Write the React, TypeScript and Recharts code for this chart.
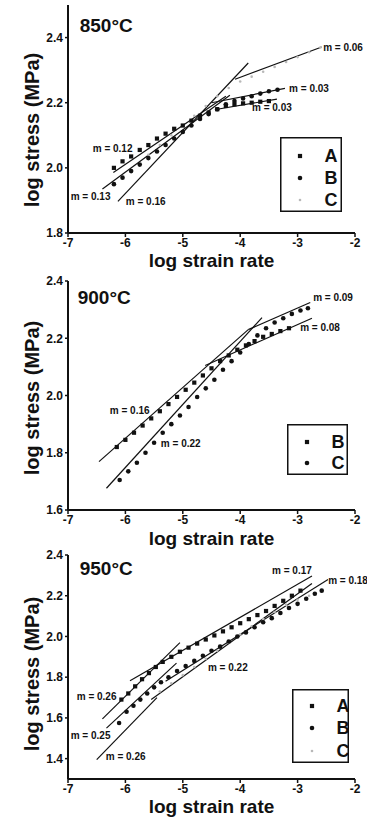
import React from 'react';
import { ComposedChart, Scatter, XAxis, YAxis, ReferenceLine } from 'recharts';

type Pt = [number, number];
type Note = [number, number, string];

const RATE_TICKS = [-7, -6, -5, -4, -3, -2];

// ---- 850°C ----
const a850: Pt[] = [
  [-6.2, 2.0], [-6.05, 2.02], [-5.9, 2.035], [-5.75, 2.055], [-5.6, 2.07], [-5.45, 2.09],
  [-5.3, 2.105], [-5.15, 2.12], [-5.0, 2.13], [-4.85, 2.145], [-4.7, 2.16], [-4.55, 2.17],
  [-4.4, 2.18], [-4.25, 2.19], [-4.1, 2.195], [-3.95, 2.198], [-3.8, 2.2], [-3.65, 2.203], [-3.5, 2.205],
];
const b850: Pt[] = [
  [-6.2, 1.95], [-6.05, 1.97], [-5.9, 1.99], [-5.75, 2.01], [-5.6, 2.03], [-5.45, 2.05],
  [-5.3, 2.07], [-5.15, 2.09], [-5.0, 2.11], [-4.85, 2.13], [-4.7, 2.15], [-4.55, 2.165],
  [-4.4, 2.18], [-4.25, 2.195], [-4.1, 2.205], [-3.95, 2.213], [-3.8, 2.22], [-3.65, 2.228],
  [-3.5, 2.235], [-3.35, 2.24],
];
const c850: Pt[] = [
  [-5.6, 2.04], [-5.4, 2.07], [-5.2, 2.1], [-5.0, 2.13], [-4.8, 2.16], [-4.6, 2.19],
  [-4.4, 2.22], [-4.2, 2.245], [-4.0, 2.265], [-3.8, 2.28], [-3.6, 2.295], [-3.4, 2.31],
  [-3.2, 2.325], [-3.0, 2.34], [-2.8, 2.355], [-2.6, 2.37],
];
const fits850: [Pt, Pt][] = [
  [[-4.09, 2.272], [-2.58, 2.371]],
  [[-6.13, 1.897], [-3.86, 2.322]],
  [[-6.4, 1.935], [-4.18, 2.223]],
  [[-6.21, 1.986], [-4.25, 2.22]],
  [[-4.5, 2.2], [-3.22, 2.244]],
  [[-4.4, 2.18], [-3.36, 2.211]],
];
const notes850: Note[] = [
  [-2.555, 2.371, 'm = 0.06'],
  [-3.148, 2.245, 'm = 0.03'],
  [-3.794, 2.184, 'm = 0.03'],
  [-6.569, 2.058, 'm = 0.12'],
  [-6.953, 1.911, 'm = 0.13'],
  [-5.993, 1.897, 'm = 0.16'],
];

// ---- 900°C ----
const b900: Pt[] = [
  [-6.15, 1.82], [-6.0, 1.845], [-5.85, 1.87], [-5.7, 1.895], [-5.55, 1.92], [-5.4, 1.945],
  [-5.25, 1.97], [-5.1, 1.995], [-4.95, 2.02], [-4.8, 2.045], [-4.65, 2.07], [-4.5, 2.095],
  [-4.35, 2.12], [-4.2, 2.14], [-4.05, 2.16], [-3.9, 2.175], [-3.75, 2.19], [-3.6, 2.205],
  [-3.45, 2.215], [-3.3, 2.225], [-3.15, 2.235],
];
const c900: Pt[] = [
  [-6.1, 1.705], [-5.95, 1.735], [-5.8, 1.765], [-5.65, 1.8], [-5.5, 1.835], [-5.35, 1.87],
  [-5.2, 1.9], [-5.05, 1.93], [-4.9, 1.96], [-4.75, 1.995], [-4.6, 2.025], [-4.45, 2.055],
  [-4.3, 2.09], [-4.15, 2.12], [-4.0, 2.15], [-3.85, 2.18], [-3.7, 2.21], [-3.55, 2.235],
  [-3.4, 2.255], [-3.25, 2.27], [-3.1, 2.285], [-2.95, 2.297], [-2.82, 2.305],
];
const fits900: [Pt, Pt][] = [
  [[-6.46, 1.769], [-3.86, 2.23]],
  [[-6.33, 1.676], [-3.62, 2.272]],
  [[-3.86, 2.23], [-2.78, 2.325]],
  [[-4.61, 2.105], [-2.75, 2.27]],
];
const notes900: Note[] = [
  [-2.729, 2.341, 'm = 0.09'],
  [-2.956, 2.239, 'm = 0.08'],
  [-6.272, 1.946, 'm = 0.16'],
  [-5.382, 1.834, 'm = 0.22'],
];

// ---- 950°C ----
const a950: Pt[] = [
  [-6.07, 1.69], [-5.95, 1.72], [-5.83, 1.755], [-5.71, 1.79], [-5.59, 1.82], [-5.47, 1.85],
  [-5.35, 1.875], [-5.2, 1.9], [-5.05, 1.925], [-4.9, 1.945], [-4.75, 1.965], [-4.6, 1.985],
  [-4.45, 2.005], [-4.3, 2.025], [-4.15, 2.045], [-4.0, 2.065], [-3.85, 2.085], [-3.7, 2.105],
  [-3.55, 2.125], [-3.4, 2.15], [-3.25, 2.175], [-3.1, 2.2], [-2.95, 2.225],
];
const b950: Pt[] = [
  [-6.11, 1.575], [-5.98, 1.63], [-5.86, 1.66], [-5.74, 1.69], [-5.62, 1.72], [-5.5, 1.75],
  [-5.38, 1.775], [-5.25, 1.8], [-5.1, 1.83], [-4.95, 1.855], [-4.8, 1.88], [-4.65, 1.905],
  [-4.5, 1.93], [-4.35, 1.95], [-4.2, 1.975], [-4.05, 2.0], [-3.9, 2.02], [-3.75, 2.045],
  [-3.6, 2.07], [-3.45, 2.09], [-3.3, 2.115], [-3.15, 2.14], [-3.0, 2.16], [-2.85, 2.185],
  [-2.7, 2.21], [-2.58, 2.225],
];
const c950: Pt[] = [
  [-5.4, 1.73], [-5.2, 1.77], [-5.0, 1.81], [-4.8, 1.85], [-4.6, 1.89], [-4.4, 1.93],
  [-4.2, 1.97], [-4.0, 2.01], [-3.8, 2.05], [-3.6, 2.085], [-3.4, 2.12], [-3.2, 2.155],
  [-3.0, 2.18], [-2.8, 2.2],
];
const fits950: [Pt, Pt][] = [
  [[-6.4, 1.595], [-5.05, 1.97]],
  [[-5.92, 1.782], [-2.75, 2.297]],
  [[-6.33, 1.55], [-5.11, 1.869]],
  [[-5.3, 1.78], [-2.47, 2.28]],
  [[-6.5, 1.395], [-5.45, 1.7]],
  [[-5.55, 1.69], [-2.75, 2.26]],
];
const notes950: Note[] = [
  [-3.445, 2.322, 'm = 0.17'],
  [-2.468, 2.273, 'm = 0.18'],
  [-4.562, 1.846, 'm = 0.22'],
  [-6.848, 1.704, 'm = 0.26'],
  [-6.953, 1.513, 'm = 0.25'],
  [-6.342, 1.41, 'm = 0.26'],
];

const FONT = '"Liberation Sans", Arial, Helvetica, sans-serif';
const INK = '#111';

const Square = (p: any) => <rect x={p.cx - 2.1} y={p.cy - 2.1} width={4.2} height={4.2} fill={INK} />;
const Round = (p: any) => <circle cx={p.cx} cy={p.cy} r={2.3} fill={INK} />;
const Faint = (p: any) => <circle cx={p.cx} cy={p.cy} r={1.3} fill="#b8b8b8" />;

const noteShape = (size: number) => (p: any) => (
  <text x={p.cx} y={p.cy} dominantBaseline="central" fontSize={size} fontWeight="bold" fontFamily={FONT} fill={INK}>
    {p.payload.text}
  </text>
);

const YTitle = ({ cy }: { cy: number }) => (
  <text
    x={32}
    y={cy}
    transform={`rotate(-90, 32, ${cy})`}
    textAnchor="middle"
    dominantBaseline="central"
    fontSize={20}
    fontWeight="bold"
    fontFamily={FONT}
    fill={INK}
  >
    log stress (MPa)
  </text>
);

type Series = { key: string; pts: Pt[]; kind: 'square' | 'round' | 'faint' };

type PanelProps = {
  top: number;
  height: number;
  marginTop: number;
  axisHeight: number;
  xLabelOffset: number;
  yLabelY: number;
  yDomain: [number, number];
  yTicks: number[];
  title: string;
  titleAt: Pt;
  series: Series[];
  fits: [Pt, Pt][];
  notes: Note[];
  legend: { left: number; top: number; width: number; height: number; rows: number[] };
};

const shapeFor = (k: Series['kind']) => (k === 'square' ? Square : k === 'round' ? Round : Faint);

function Panel(props: PanelProps) {
  const { legend } = props;
  // faint series C goes underneath the dark markers
  const drawOrder = [...props.series].sort((s1, s2) => (s1.kind === 'faint' ? -1 : 0) - (s2.kind === 'faint' ? -1 : 0));
  return (
    <div style={{ position: 'absolute', left: 0, top: props.top, width: 367, height: props.height }}>
      <ComposedChart
        width={367}
        height={props.height}
        margin={{ top: props.marginTop, right: 12, bottom: 0, left: 0 }}
        style={{ overflow: 'visible' }}
      >
        <XAxis
          type="number"
          dataKey="x"
          domain={[-7, -2]}
          ticks={RATE_TICKS}
          height={props.axisHeight}
          axisLine={{ stroke: INK, strokeWidth: 2 }}
          tickLine={{ stroke: INK, strokeWidth: 1.5 }}
          tickSize={4}
          tickMargin={1}
          tick={{ fontSize: 12, fontWeight: 'bold', fill: INK, fontFamily: FONT }}
          label={{
            value: 'log strain rate',
            position: 'insideTop',
            offset: props.xLabelOffset,
            fontSize: 19,
            fontWeight: 'bold',
            fill: INK,
            fontFamily: FONT,
          }}
        />
        <YAxis
          type="number"
          dataKey="y"
          domain={props.yDomain}
          ticks={props.yTicks}
          width={68}
          tickFormatter={(v: number) => v.toFixed(1)}
          axisLine={{ stroke: INK, strokeWidth: 2 }}
          tickLine={{ stroke: INK, strokeWidth: 1.5 }}
          tickSize={3}
          tickMargin={2}
          tick={{ fontSize: 12, fontWeight: 'bold', fill: INK, fontFamily: FONT }}
          label={<YTitle cy={props.yLabelY} />}
        />
        {props.fits.map((seg, i) => (
          <ReferenceLine
            key={'f' + i}
            segment={[{ x: seg[0][0], y: seg[0][1] }, { x: seg[1][0], y: seg[1][1] }]}
            stroke={INK}
            strokeWidth={1.2}
          />
        ))}
        {drawOrder.map((s) => (
          <Scatter
            key={s.key}
            name={s.key}
            data={s.pts.map(([x, y]) => ({ x, y }))}
            shape={shapeFor(s.kind)}
            isAnimationActive={false}
          />
        ))}
        <Scatter
          name="notes"
          data={props.notes.map(([x, y, text]) => ({ x, y, text }))}
          shape={noteShape(10)}
          isAnimationActive={false}
        />
        <Scatter
          name="title"
          data={[{ x: props.titleAt[0], y: props.titleAt[1], text: props.title }]}
          shape={noteShape(19)}
          isAnimationActive={false}
        />
      </ComposedChart>
      <svg
        width={legend.width}
        height={legend.height}
        style={{ position: 'absolute', left: legend.left, top: legend.top }}
      >
        <rect x={0.75} y={0.75} width={legend.width - 1.5} height={legend.height - 1.5} fill="white" stroke={INK} strokeWidth={1.5} />
        {props.series.map((s, i) => {
          const cy = legend.rows[i];
          const Mark = shapeFor(s.kind);
          return (
            <g key={s.key}>
              <Mark cx={20} cy={cy} />
              <text x={51} y={cy} textAnchor="middle" dominantBaseline="central" fontSize={18} fontWeight="bold" fontFamily={FONT} fill={INK}>
                {s.key}
              </text>
            </g>
          );
        })}
      </svg>
    </div>
  );
}

export default function App() {
  return (
    <div style={{ position: 'absolute', left: 0, top: 0, width: 367, height: 822, background: '#fff' }}>
      <Panel
        top={0}
        height={275}
        marginTop={5}
        axisHeight={42}
        xLabelOffset={21}
        yLabelY={130}
        yDomain={[1.8, 2.5]}
        yTicks={[1.8, 2.0, 2.2, 2.4]}
        title="850°C"
        titleAt={[-6.796, 2.438]}
        series={[
          { key: 'A', pts: a850, kind: 'square' },
          { key: 'B', pts: b850, kind: 'round' },
          { key: 'C', pts: c850, kind: 'faint' },
        ]}
        fits={fits850}
        notes={notes850}
        legend={{ left: 280, top: 137, width: 62, height: 75, rows: [19, 41, 63] }}
      />
      <Panel
        top={270}
        height={280}
        marginTop={11}
        axisHeight={40}
        xLabelOffset={22}
        yLabelY={128}
        yDomain={[1.6, 2.4]}
        yTicks={[1.6, 1.8, 2.0, 2.2, 2.4]}
        title="900°C"
        titleAt={[-6.831, 2.341]}
        series={[
          { key: 'B', pts: b900, kind: 'square' },
          { key: 'C', pts: c900, kind: 'round' },
        ]}
        fits={fits900}
        notes={notes900}
        legend={{ left: 287, top: 154, width: 61, height: 51, rows: [18, 39] }}
      />
      <Panel
        top={540}
        height={282}
        marginTop={15}
        axisHeight={43}
        xLabelOffset={21}
        yLabelY={134}
        yDomain={[1.3, 2.4]}
        yTicks={[1.4, 1.6, 1.8, 2.0, 2.2, 2.4]}
        title="950°C"
        titleAt={[-6.796, 2.336]}
        series={[
          { key: 'A', pts: a950, kind: 'square' },
          { key: 'B', pts: b950, kind: 'round' },
          { key: 'C', pts: c950, kind: 'faint' },
        ]}
        fits={fits950}
        notes={notes950}
        legend={{ left: 292, top: 149, width: 57, height: 74, rows: [17, 39, 62] }}
      />
    </div>
  );
}
